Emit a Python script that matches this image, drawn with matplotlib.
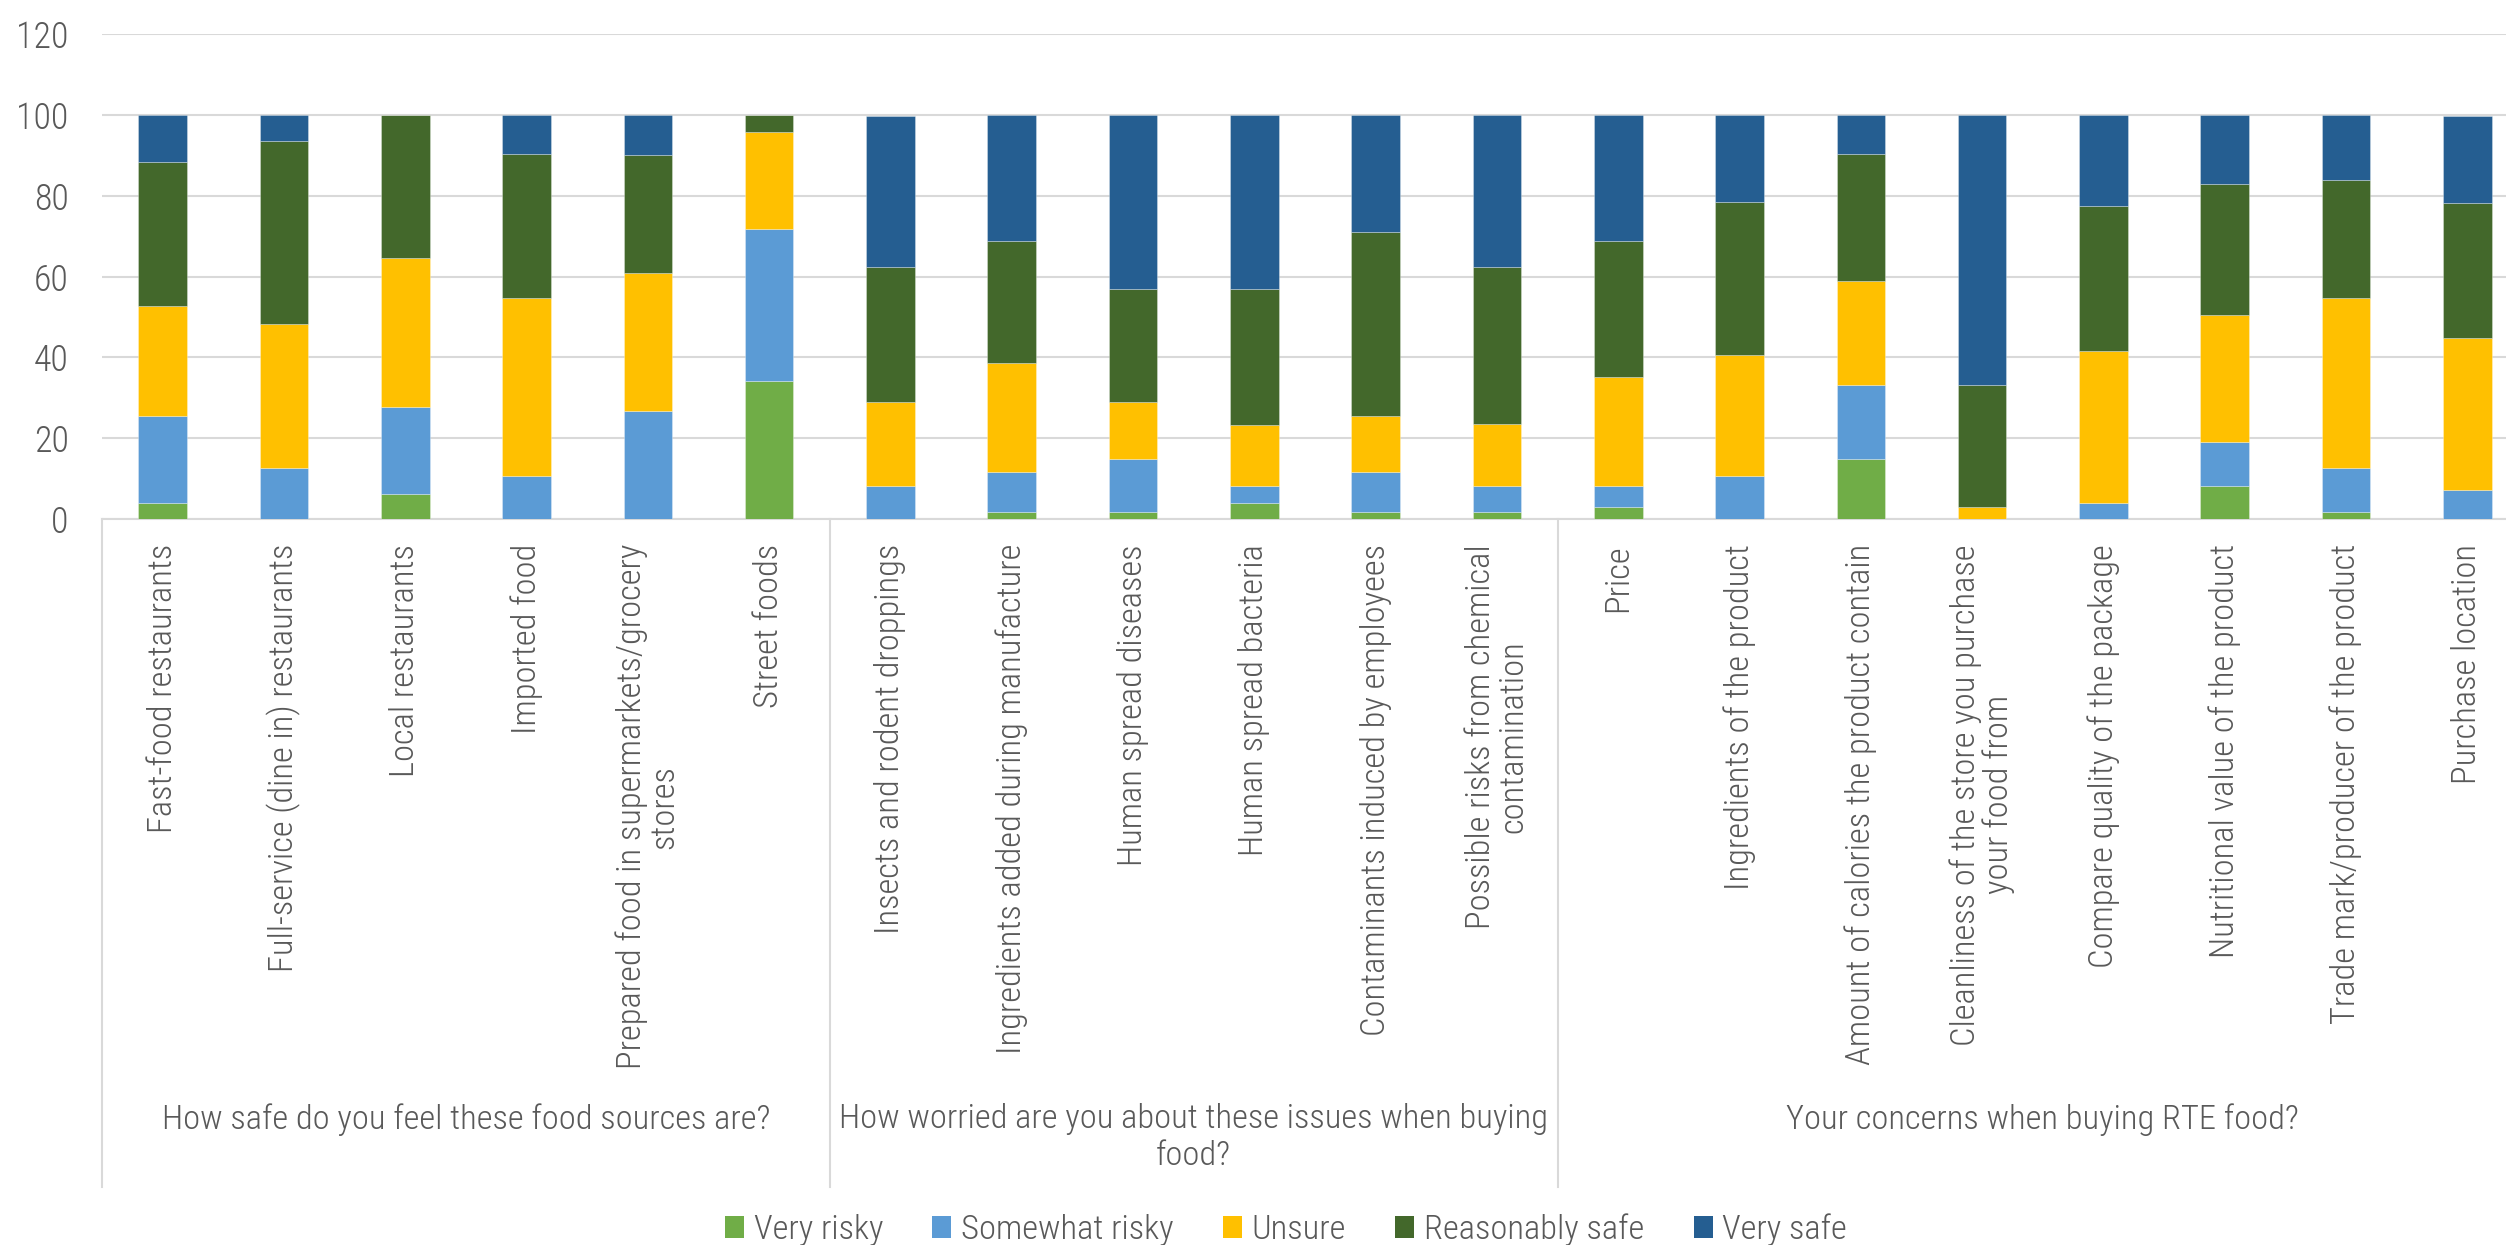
import os
import matplotlib
matplotlib.use("Agg")
import matplotlib.pyplot as plt
import matplotlib.transforms as mtransforms
from matplotlib import font_manager as fm
from matplotlib.font_manager import FontProperties
from matplotlib.lines import Line2D
from matplotlib.patches import Patch
import numpy as np

categories = [
    "Fast-food restaurants",
    "Full-service (dine in) restaurants",
    "Local restaurants",
    "Imported food",
    "Prepared food in supermarkets/grocery\nstores",
    "Street foods",
    "Insects and rodent droppings",
    "Ingredients added during manufacture",
    "Human spread diseases",
    "Human spread bacteria",
    "Contaminants induced by employees",
    "Possible risks from chemical\ncontamination",
    "Price",
    "Ingredients of the product",
    "Amount of calories the product contain",
    "Cleanliness of the store you purchase\nyour food from",
    "Compare quality of the package",
    "Nutritional value of the product",
    "Trade mark/producer of the product",
    "Purchase location",
]
groups = [
    "How safe do you feel these food sources are?",
    "How worried are you about these issues when buying\nfood?",
    "Your concerns when buying RTE food?",
]
group_sizes = [6, 6, 8]

series_names = ["Very risky", "Somewhat risky", "Unsure", "Reasonably safe", "Very safe"]
very_risky = [4.1, 0, 6.2, 0, 0, 34.1, 0, 1.9, 1.9, 4.1, 1.9, 1.9, 3.0, 0, 14.8, 0, 0, 8.3, 1.9, 0]
somewhat_risky = [21.5, 12.6, 21.6, 10.6, 26.7, 37.7, 8.3, 9.8, 12.9, 4.2, 9.8, 6.4, 5.3, 10.6, 18.5, 0, 4.1, 10.9, 10.9, 7.3]
unsure = [27.0, 35.7, 36.8, 44.1, 34.3, 23.9, 20.6, 26.9, 14.2, 15.1, 13.9, 15.3, 26.9, 30.1, 25.7, 3.0, 37.6, 31.3, 41.9, 37.6]
reasonably_safe = [35.6, 45.1, 35.4, 35.6, 29.1, 4.3, 33.4, 30.3, 27.9, 33.5, 45.5, 38.7, 33.5, 37.8, 31.4, 30.1, 35.7, 32.3, 29.1, 33.4]
very_safe = [11.8, 6.6, 0, 9.7, 9.9, 0, 37.3, 31.1, 43.1, 43.1, 28.9, 37.7, 31.3, 21.5, 9.6, 66.9, 22.6, 17.2, 16.2, 21.4]

colors = ["#70AD47", "#5B9BD5", "#FFC000", "#43682B", "#255E91"]
text_color = "#595959"
grid_color = "#D9D9D9"


def pick_font():
    """Prefer a light, narrow sans face; fall back to Roboto."""
    files = [f.fname for f in fm.fontManager.ttflist]
    prefs = ["LiberationSansNarrow-Regular", "RobotoCondensed-Light",
             "NotoSans-CondensedLight", "OpenSans-CondensedLight",
             "OpenSans_Condensed-Light", "RobotoCondensed-Regular",
             "NotoSans-Condensed.", "Roboto-Light", "Lato-Light"]
    for p in prefs:
        for fn in files:
            if os.path.basename(fn).startswith(p):
                return FontProperties(fname=fn)
    return FontProperties(family="Roboto")


W, H = 2506, 1245
fig = plt.figure(figsize=(W / 100, H / 100), dpi=100)
renderer = fig.canvas.get_renderer()
fp = pick_font()

# size the text so a sample label spans the intended length
probe = fig.text(0, 0, "Fast-food restaurants", fontproperties=fp, fontsize=20)
w = probe.get_window_extent(renderer).width
probe.remove()
fs = min(26.0, 20.0 * 289.0 / w)
fs_px = fs * 100 / 72


def font(size=fs):
    f = fp.copy()
    f.set_size(size)
    return f


# plot area in pixel terms (right edge runs past the canvas)
left_px, right_px, zero_px, top_px = 102, 2528, 519.3, 33.8
ax = fig.add_axes([left_px / W, 1 - zero_px / H,
                   (right_px - left_px) / W, (zero_px - top_px) / H])

x = np.arange(len(categories))
bottom = np.zeros(len(categories))
for name, vals, col in zip(series_names,
                           [very_risky, somewhat_risky, unsure, reasonably_safe, very_safe],
                           colors):
    vals = np.array(vals, dtype=float)
    ax.bar(x, vals, bottom=bottom, width=0.40, color=col, label=name,
           edgecolor=(1, 1, 1, 0.35), linewidth=0.6, zorder=3)
    bottom += vals

ax.set_xlim(-0.5, len(categories) - 0.5)
ax.set_ylim(0, 120)
ax.set_yticks(np.arange(0, 121, 20))
ax.yaxis.grid(True, color=grid_color, linewidth=1.5, zorder=0)
ax.set_axisbelow(True)
for s in ["top", "right", "left"]:
    ax.spines[s].set_visible(False)
ax.spines["bottom"].set_color(grid_color)
ax.spines["bottom"].set_linewidth(1.5)
ax.tick_params(axis="y", length=0, pad=24, labelcolor=text_color)
for t in ax.get_yticklabels():
    t.set_fontproperties(font(fs * 1.04))
ax.set_xticks([])

# category labels, rotated and hanging from just below the axis
trans_xfig = mtransforms.blended_transform_factory(ax.transData, fig.transFigure)
label_top = 1 - 544 / H
for xi, lab in zip(x, categories):
    ax.text(xi, label_top, lab, transform=trans_xfig, rotation=90,
            ha="center", va="top", multialignment="center",
            fontproperties=font(), color=text_color, linespacing=1.0)

# group separators and group titles
sep_bottom = 1 - 1187 / H
sep_top = 1 - zero_px / H
edges = np.concatenate([[0], np.cumsum(group_sizes)]) - 0.5
for e in edges:
    ax.add_line(Line2D([e, e], [sep_bottom, sep_top], transform=trans_xfig,
                       color=grid_color, linewidth=1.5, clip_on=False))
group_top = 1 - 1103 / H
for i, g in enumerate(groups):
    cx = (edges[i] + edges[i + 1]) / 2
    ax.text(cx, group_top, g, transform=trans_xfig, ha="center", va="top",
            multialignment="center", fontproperties=font(), color=text_color,
            linespacing=1.2)

handles = [Patch(facecolor=c, edgecolor="none", label=n) for c, n in zip(colors, series_names)]
fig.legend(handles=handles, loc="center", bbox_to_anchor=(1286 / W, 1 - 1230 / H),
           ncol=5, frameon=False, prop=font(), labelcolor=text_color,
           handlelength=19 / fs_px, handleheight=20 / fs_px,
           handletextpad=10 / fs_px, columnspacing=49 / fs_px)

fig.savefig("out.png", dpi=100)
